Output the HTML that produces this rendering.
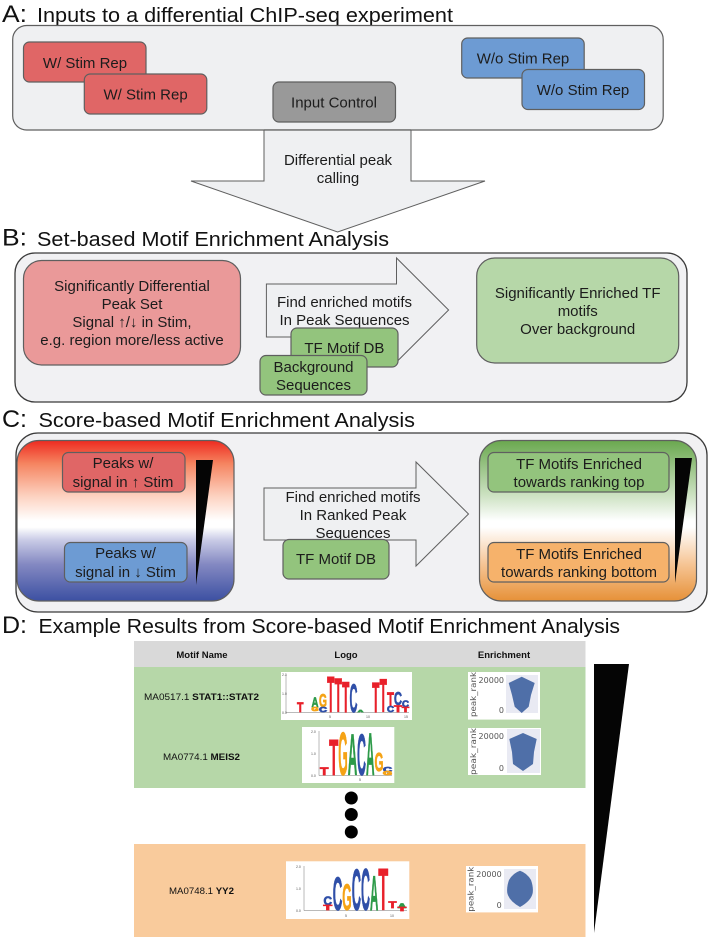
<!DOCTYPE html>
<html><head><meta charset="utf-8"><title>Differential ChIP-seq motif enrichment</title>
<style>
html,body{margin:0;padding:0;background:#fff;width:709px;height:938px;overflow:hidden}
svg{display:block}
text{font-family:"Liberation Sans",Arial,sans-serif;fill:#1c1c1c}
.t{font-size:20px;fill:#111}
.l{font-size:24.5px;fill:#111}
.c{font-size:15px;text-anchor:middle}
.box{stroke:#5f5f5f;stroke-width:1.2}
.tb{font-size:9.5px;fill:#111}
.h{font-size:9.5px;font-weight:bold;text-anchor:middle;fill:#111}
.g text{font-family:"Liberation Sans",Arial,sans-serif;font-weight:bold;stroke-width:.7}
.R{fill:#e8202a;stroke:#e8202a}.B{fill:#2f4fa8;stroke:#2f4fa8}.O{fill:#f5a316;stroke:#f5a316}.N{fill:#2c9a48;stroke:#2c9a48}
.a{font-size:3.5px;fill:#555;font-family:"Liberation Sans",Arial,sans-serif}
.v{font-family:"DejaVu Sans",sans-serif;font-size:8px;fill:#555}
</style></head>
<body>
<svg width="709" height="938" viewBox="0 0 709 938" xmlns="http://www.w3.org/2000/svg">
<defs>
<linearGradient id="gl" x1="0" y1="0" x2="0" y2="1"><stop offset="0" stop-color="#ee2a20"/><stop offset=".143" stop-color="#f58460"/><stop offset=".35" stop-color="#fdd3c2"/><stop offset=".5" stop-color="#ffffff"/><stop offset=".54" stop-color="#ffffff"/><stop offset=".62" stop-color="#c9cbe6"/><stop offset=".77" stop-color="#8489c2"/><stop offset="1" stop-color="#3c50a2"/></linearGradient>
<linearGradient id="gr" x1="0" y1="0" x2="0" y2="1"><stop offset="0" stop-color="#6aa84f"/><stop offset=".35" stop-color="#cfe3c5"/><stop offset=".5" stop-color="#ffffff"/><stop offset=".54" stop-color="#ffffff"/><stop offset=".77" stop-color="#f6c595"/><stop offset="1" stop-color="#e69138"/></linearGradient>
</defs>
<rect width="709" height="938" fill="#fff"/>

<!-- A -->
<text class="l" x="2" y="22" textLength="25" lengthAdjust="spacingAndGlyphs">A:</text>
<text class="t" x="37" y="22" textLength="416" lengthAdjust="spacingAndGlyphs">Inputs to a differential ChIP-seq experiment</text>
<rect class="box" x="12.7" y="25.5" width="650.5" height="104.5" rx="14" fill="#eff0f2"/>
<rect class="box" x="23.5" y="42" width="122.5" height="40" rx="6" fill="#e06666"/>
<text class="c" x="85" y="68">W/ Stim Rep</text>
<rect class="box" x="84.3" y="74" width="122.5" height="40" rx="6" fill="#e06666"/>
<text class="c" x="145.6" y="99.5">W/ Stim Rep</text>
<rect class="box" x="273" y="82" width="122.5" height="40" rx="6" fill="#999999"/>
<text class="c" x="334" y="107.5">Input Control</text>
<rect class="box" x="461.7" y="38" width="122.5" height="40" rx="6" fill="#6d9bd3"/>
<text class="c" x="523" y="63.5">W/o Stim Rep</text>
<rect class="box" x="522" y="69.5" width="122.5" height="40" rx="6" fill="#6d9bd3"/>
<text class="c" x="583" y="95">W/o Stim Rep</text>
<polygon points="264,130 411,130 411,181 485,181 337.6,232 191,181 264,181" fill="#eff0f2" stroke="#5f5f5f" stroke-width="1"/>
<line x1="264" y1="130" x2="411" y2="130" stroke="#5f5f5f" stroke-width="1.2"/>
<text class="c" x="338" y="165">Differential peak</text>
<text class="c" x="338" y="183">calling</text>

<!-- B -->
<text class="l" x="2" y="245.500" textLength="25" lengthAdjust="spacingAndGlyphs">B:</text>
<text class="t" x="37" y="246" textLength="352" lengthAdjust="spacingAndGlyphs">Set-based Motif Enrichment Analysis</text>
<rect x="15" y="253" width="672" height="149" rx="20" fill="#f1f1f3" stroke="#3a3a3a" stroke-width="1.3"/>
<rect class="box" x="23.5" y="260.500" width="217" height="104.500" rx="18" fill="#ea9999"/>
<text class="c" x="132" y="291">Significantly Differential</text>
<text class="c" x="132" y="309">Peak Set</text>
<text class="c" x="132" y="327">Signal ↑/↓ in Stim,</text>
<text class="c" x="132" y="345">e.g. region more/less active</text>
<polygon points="266.400,284 396.500,284 396.500,258 448.600,310 396.500,362 396.500,337 266.400,337" fill="#eff0f2" stroke="#5f5f5f"/>
<text class="c" x="344.500" y="307">Find enriched motifs</text>
<text class="c" x="344.500" y="325">In Peak Sequences</text>
<rect class="box" x="291" y="328" width="107" height="39" rx="6" fill="#93c47d"/>
<text class="c" x="344.400" y="353">TF Motif DB</text>
<rect class="box" x="260" y="355.500" width="107" height="39.500" rx="6" fill="#93c47d"/>
<text class="c" x="313.500" y="372">Background</text>
<text class="c" x="313.500" y="390">Sequences</text>
<rect class="box" x="476.700" y="258" width="202" height="105" rx="18" fill="#b6d7a8"/>
<text class="c" x="577.700" y="298">Significantly Enriched TF</text>
<text class="c" x="577.700" y="316">motifs</text>
<text class="c" x="577.700" y="334">Over background</text>

<!-- C -->
<text class="l" x="2" y="427" textLength="25" lengthAdjust="spacingAndGlyphs">C:</text>
<text class="t" x="38.500" y="427" textLength="376.500" lengthAdjust="spacingAndGlyphs">Score-based Motif Enrichment Analysis</text>
<rect x="16" y="433" width="691" height="179" rx="22" fill="#f1f1f3" stroke="#3a3a3a" stroke-width="1.3"/>
<rect class="box" x="17" y="440.500" width="217" height="160.500" rx="22" fill="url(#gl)"/>
<rect class="box" x="62.500" y="452.500" width="122.500" height="39.500" rx="6" fill="#e06666"/>
<text class="c" x="123" y="468">Peaks w/</text>
<text class="c" x="123" y="487">signal in ↑ Stim</text>
<rect class="box" x="64.500" y="542.500" width="122.500" height="39.500" rx="6" fill="#6d9bd3"/>
<text class="c" x="125.500" y="558">Peaks w/</text>
<text class="c" x="125.500" y="577">signal in ↓ Stim</text>
<polygon points="196,460 213,460 196,585" fill="#050505"/>
<polygon points="264,488 416,488 416,462 468.500,514 416,566 416,540 264,540" fill="#eff0f2" stroke="#5f5f5f"/>
<text class="c" x="353" y="502">Find enriched motifs</text>
<text class="c" x="353" y="520">In Ranked Peak</text>
<text class="c" x="353" y="538">Sequences</text>
<rect class="box" x="283" y="539.500" width="106" height="39.500" rx="6" fill="#93c47d"/>
<text class="c" x="336" y="564">TF Motif DB</text>
<rect class="box" x="479.500" y="440.500" width="217" height="160.500" rx="22" fill="url(#gr)"/>
<rect class="box" x="488" y="452.500" width="181" height="39.500" rx="6" fill="#93c47d"/>
<text class="c" x="579" y="469">TF Motifs Enriched</text>
<text class="c" x="579" y="487">towards ranking top</text>
<rect class="box" x="488" y="542.500" width="181" height="39.500" rx="6" fill="#f6b26b"/>
<text class="c" x="579" y="559">TF Motifs Enriched</text>
<text class="c" x="579" y="577">towards ranking bottom</text>
<polygon points="675,458 692,458 675,583" fill="#050505"/>

<!-- D -->
<text class="l" x="2" y="633" textLength="25" lengthAdjust="spacingAndGlyphs">D:</text>
<text class="t" x="38.500" y="633" textLength="581.500" lengthAdjust="spacingAndGlyphs">Example Results from Score-based Motif Enrichment Analysis</text>
<rect x="134" y="641" width="451.500" height="26" fill="#d9d9d9"/>
<rect x="134" y="667" width="451.500" height="121" fill="#b6d7a8"/>
<rect x="134" y="844" width="451.500" height="93" fill="#f9cb9c"/>
<text class="h" x="202" y="658">Motif Name</text>
<text class="h" x="346" y="658">Logo</text>
<text class="h" x="504" y="658">Enrichment</text>
<text class="tb" x="144" y="700" textLength="115" lengthAdjust="spacingAndGlyphs">MA0517.1 <tspan font-weight="bold">STAT1::STAT2</tspan></text>
<text class="tb" x="163" y="760" textLength="77" lengthAdjust="spacingAndGlyphs">MA0774.1 <tspan font-weight="bold">MEIS2</tspan></text>
<text class="tb" x="169" y="894" textLength="65" lengthAdjust="spacingAndGlyphs">MA0748.1 <tspan font-weight="bold">YY2</tspan></text>

<!-- Logo 1 -->
<rect x="281" y="672" width="131" height="48" fill="#fff"/>
<path d="M286 675V712.500H409" fill="none" stroke="#777" stroke-width=".5"/>
<text class="a" x="282" y="676">2.0</text><text class="a" x="282" y="695">1.0</text><text class="a" x="282" y="714">0.0</text>
<text class="a" x="329" y="718">5</text><text class="a" x="366" y="718">10</text><text class="a" x="404" y="718">15</text>
<g class="g">
<text class="R" x="297" y="712" font-size="14" textLength="6.500" lengthAdjust="spacingAndGlyphs">T</text>
<text class="N" x="311.500" y="707" font-size="14" textLength="7" lengthAdjust="spacingAndGlyphs">A</text>
<text class="O" x="311.500" y="711" font-size="5" textLength="7" lengthAdjust="spacingAndGlyphs">G</text>
<text class="O" x="319" y="707" font-size="18" textLength="8" lengthAdjust="spacingAndGlyphs">G</text>
<text class="B" x="319" y="712" font-size="7" textLength="8" lengthAdjust="spacingAndGlyphs">C</text>
<text class="R" x="327" y="712" font-size="51" textLength="7.500" lengthAdjust="spacingAndGlyphs">T</text>
<text class="R" x="334.500" y="712" font-size="48" textLength="7.500" lengthAdjust="spacingAndGlyphs">T</text>
<text class="R" x="342" y="712" font-size="44" textLength="7.500" lengthAdjust="spacingAndGlyphs">T</text>
<text class="B" x="349.500" y="712" font-size="40" textLength="8" lengthAdjust="spacingAndGlyphs">C</text>
<text class="N" x="358" y="712" font-size="3" textLength="5" lengthAdjust="spacingAndGlyphs">A</text>
<text class="R" x="372" y="712" font-size="43" textLength="7.500" lengthAdjust="spacingAndGlyphs">T</text>
<text class="R" x="379.500" y="712" font-size="47" textLength="7.500" lengthAdjust="spacingAndGlyphs">T</text>
<text class="R" x="387" y="706" font-size="19" textLength="7" lengthAdjust="spacingAndGlyphs">T</text>
<text class="B" x="387" y="712" font-size="8" textLength="7" lengthAdjust="spacingAndGlyphs">C</text>
<text class="B" x="394" y="705" font-size="18" textLength="8" lengthAdjust="spacingAndGlyphs">C</text>
<text class="R" x="394" y="712" font-size="9" textLength="8" lengthAdjust="spacingAndGlyphs">T</text>
<text class="B" x="402" y="707" font-size="9" textLength="7" lengthAdjust="spacingAndGlyphs">C</text>
<text class="R" x="402" y="712" font-size="7" textLength="7" lengthAdjust="spacingAndGlyphs">T</text>
</g>

<!-- Logo 2 -->
<rect x="302" y="727" width="92.300" height="56" fill="#fff"/>
<path d="M319 731V775.500H392" fill="none" stroke="#777" stroke-width=".5"/>
<text class="a" x="311" y="733">2.0</text><text class="a" x="311" y="755">1.0</text><text class="a" x="311" y="777">0.0</text>
<text class="a" x="359" y="781">5</text>
<g class="g">
<text class="R" x="320" y="775" font-size="11" textLength="8.500" lengthAdjust="spacingAndGlyphs">T</text>
<text class="R" x="329" y="775" font-size="51" textLength="9.500" lengthAdjust="spacingAndGlyphs">T</text>
<text class="O" x="338.300" y="775" font-size="61" textLength="9.500" lengthAdjust="spacingAndGlyphs">G</text>
<text class="N" x="347.800" y="775" font-size="58" textLength="9.500" lengthAdjust="spacingAndGlyphs">A</text>
<text class="B" x="357" y="775" font-size="58" textLength="9" lengthAdjust="spacingAndGlyphs">C</text>
<text class="N" x="366" y="775" font-size="60" textLength="8.500" lengthAdjust="spacingAndGlyphs">A</text>
<text class="O" x="374.500" y="771" font-size="26" textLength="9" lengthAdjust="spacingAndGlyphs">G</text>
<text class="B" x="383" y="772" font-size="7" textLength="9" lengthAdjust="spacingAndGlyphs">C</text>
<text class="O" x="383" y="775" font-size="5" textLength="9" lengthAdjust="spacingAndGlyphs">G</text>
</g>

<!-- dots -->
<circle cx="351.300" cy="798" r="6.500" fill="#000"/>
<circle cx="351.300" cy="814.500" r="6.500" fill="#000"/>
<circle cx="351.300" cy="832" r="6.500" fill="#000"/>

<!-- Logo 3 -->
<rect x="286" y="861.300" width="123.300" height="57.700" fill="#fff"/>
<path d="M304 866V910.500H407" fill="none" stroke="#777" stroke-width=".5"/>
<text class="a" x="296" y="868">2.0</text><text class="a" x="296" y="890">1.0</text><text class="a" x="296" y="912">0.0</text>
<text class="a" x="345" y="917">5</text><text class="a" x="390" y="917">10</text>
<g class="g">
<text class="B" x="323.500" y="905" font-size="12" textLength="8.500" lengthAdjust="spacingAndGlyphs">C</text>
<text class="R" x="323.500" y="910" font-size="7" textLength="8.500" lengthAdjust="spacingAndGlyphs">T</text>
<text class="B" x="332.700" y="910" font-size="47" textLength="9.600" lengthAdjust="spacingAndGlyphs">C</text>
<text class="O" x="342.300" y="910" font-size="37" textLength="9.400" lengthAdjust="spacingAndGlyphs">G</text>
<text class="B" x="351.700" y="910" font-size="58" textLength="9.300" lengthAdjust="spacingAndGlyphs">C</text>
<text class="B" x="361" y="910" font-size="59" textLength="9" lengthAdjust="spacingAndGlyphs">C</text>
<text class="N" x="370" y="910" font-size="49" textLength="8.300" lengthAdjust="spacingAndGlyphs">A</text>
<text class="R" x="378.300" y="910" font-size="59" textLength="10" lengthAdjust="spacingAndGlyphs">T</text>
<text class="R" x="388.500" y="908" font-size="9" textLength="8" lengthAdjust="spacingAndGlyphs">T</text>
<text class="N" x="398" y="908" font-size="6" textLength="8" lengthAdjust="spacingAndGlyphs">A</text>
<text class="R" x="398" y="911" font-size="5" textLength="8" lengthAdjust="spacingAndGlyphs">T</text>
</g>

<!-- Violin 1 -->
<rect x="468" y="672" width="72" height="47.600" fill="#fff"/>
<rect x="506" y="675" width="32" height="38" fill="#e9eaf3"/>
<path d="M521.700 676.700L534.700 683L531 695L528.700 706.700L521.700 713L514.700 706.700L512 695L508.700 683Z" fill="#4f6fa8"/>
<text class="v" x="504" y="683" text-anchor="end">20000</text>
<text class="v" x="504" y="713" text-anchor="end">0</text>
<text class="v" transform="translate(476,717) rotate(-90)" textLength="45" lengthAdjust="spacingAndGlyphs">peak_rank</text>

<!-- Violin 2 -->
<rect x="468" y="728" width="73" height="47" fill="#fff"/>
<rect x="507" y="729" width="33" height="44" fill="#e9eaf3"/>
<path d="M523 733L536.700 739L534 752L533 764L523 771L513 764L512 752L509.300 739Z" fill="#4f6fa8"/>
<text class="v" x="504" y="739" text-anchor="end">20000</text>
<text class="v" x="504" y="771" text-anchor="end">0</text>
<text class="v" transform="translate(476,775) rotate(-90)" textLength="47" lengthAdjust="spacingAndGlyphs">peak_rank</text>

<!-- Violin 3 -->
<rect x="466" y="866" width="72" height="46.400" fill="#fff"/>
<rect x="504" y="869" width="32" height="40" fill="#e9eaf3"/>
<path d="M520 870.700Q527 873 531 880Q533.500 887 532.700 893Q531 901 520 907Q509 901 507.300 893Q506.500 887 509 880Q513 873 520 870.700Z" fill="#4f6fa8"/>
<text class="v" x="501.700" y="877" text-anchor="end">20000</text>
<text class="v" x="501.700" y="908" text-anchor="end">0</text>
<text class="v" transform="translate(473.300,911.700) rotate(-90)" textLength="45" lengthAdjust="spacingAndGlyphs">peak_rank</text>

<polygon points="594,664 629,664 594,933" fill="#050505"/>
</svg>
</body></html>
